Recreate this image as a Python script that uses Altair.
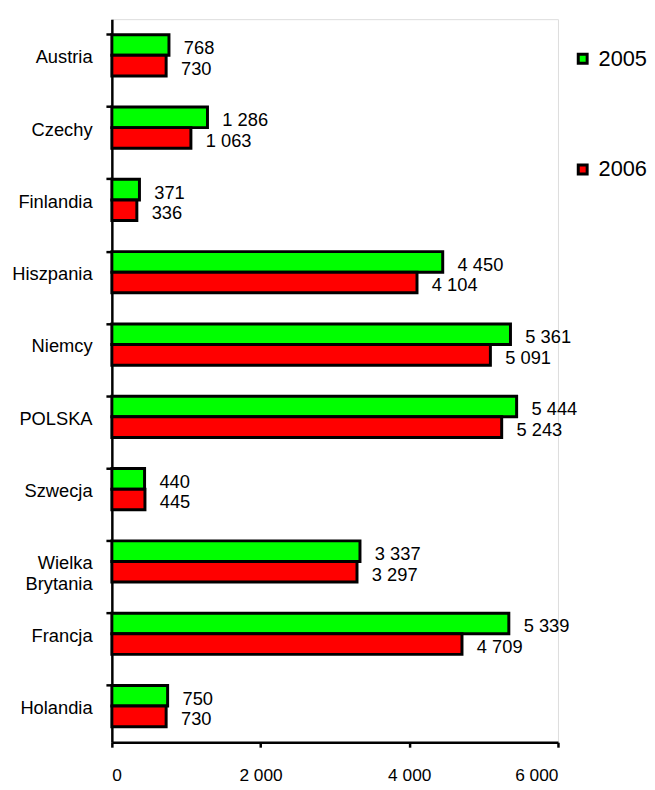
import altair as alt
import pandas as pd

countries = ["Austria", "Czechy", "Finlandia", "Hiszpania", "Niemcy", "POLSKA",
             "Szwecja", "Wielka Brytania", "Francja", "Holandia"]
v2005 = [768, 1286, 371, 4450, 5361, 5444, 440, 3337, 5339, 750]
v2006 = [730, 1063, 336, 4104, 5091, 5243, 445, 3297, 4709, 730]
years = ["2005", "2006"]
colors = ["#00FF00", "#FF0000"]


def fmt(v):
    return f"{v:,}".replace(",", " ")


rows = []
for c, a, b in zip(countries, v2005, v2006):
    rows.append({"country": c, "year": "2005", "value": a, "label": fmt(a)})
    rows.append({"country": c, "year": "2006", "value": b, "label": fmt(b)})
df = pd.DataFrame(rows)

FONT = "Liberation Sans"

y_enc = alt.Y(
    "country:N",
    sort=countries,
    scale=alt.Scale(paddingInner=0.43, paddingOuter=0.215),
    axis=alt.Axis(
        title=None,
        labelFont=FONT,
        labelFontSize=18.5,
        labelColor="black",
        labelPadding=14,
        labelOffset=2,
        labelExpr="datum.value == 'Wielka Brytania' ? ['Wielka', 'Brytania'] : datum.value",
        labelLineHeight=21,
        bandPosition=0,
        tickSize=6,
        tickWidth=2.5,
        tickColor="black",
        domainColor="black",
        domainWidth=2.5,
        grid=False,
    ),
)
x_enc = alt.X(
    "value:Q",
    scale=alt.Scale(domain=[0, 6000], nice=False),
    axis=alt.Axis(
        title=None,
        values=[0, 2000, 4000, 6000],
        labelExpr="replace(format(datum.value, ','), ',', ' ')",
        labelFont=FONT,
        labelFontSize=17.5,
        labelColor="black",
        labelPadding=20,
        tickSize=5,
        tickWidth=2.5,
        tickColor="black",
        domainColor="black",
        domainWidth=2.5,
        grid=False,
    ),
)

bars = alt.Chart(df).mark_bar(stroke="black", strokeWidth=3).encode(
    y=y_enc,
    x=x_enc,
    yOffset=alt.YOffset("year:N", sort=years),
    color=alt.Color(
        "year:N",
        sort=years,
        scale=alt.Scale(domain=years, range=colors),
        legend=alt.Legend(
            title=None,
            orient="none",
            legendX=465,
            legendY=29,
            symbolType="square",
            symbolSize=81,
            symbolStrokeColor="black",
            symbolStrokeWidth=3,
            labelFont=FONT,
            labelFontSize=22,
            labelColor="black",
            labelOffset=5,
            rowPadding=90,
        ),
    ),
)

labels = alt.Chart(df).mark_text(
    align="left", baseline="middle", dx=15, dy=3, font=FONT, fontSize=18.5, color="black"
).encode(
    y=alt.Y("country:N", sort=countries),
    x=alt.X("value:Q"),
    yOffset=alt.YOffset("year:N", sort=years),
    text="label:N",
)

chart = (
    alt.layer(bars, labels)
    .properties(
        width=451,
        height=731,
        autosize="none",
        padding={"left": 105, "top": 7, "right": 90, "bottom": 44},
    )
    .configure_view(stroke="#FFFFFF", strokeWidth=0)
    .configure(background="white")
)

chart.save("out.html", embed_options={"renderer": "svg", "actions": False})
